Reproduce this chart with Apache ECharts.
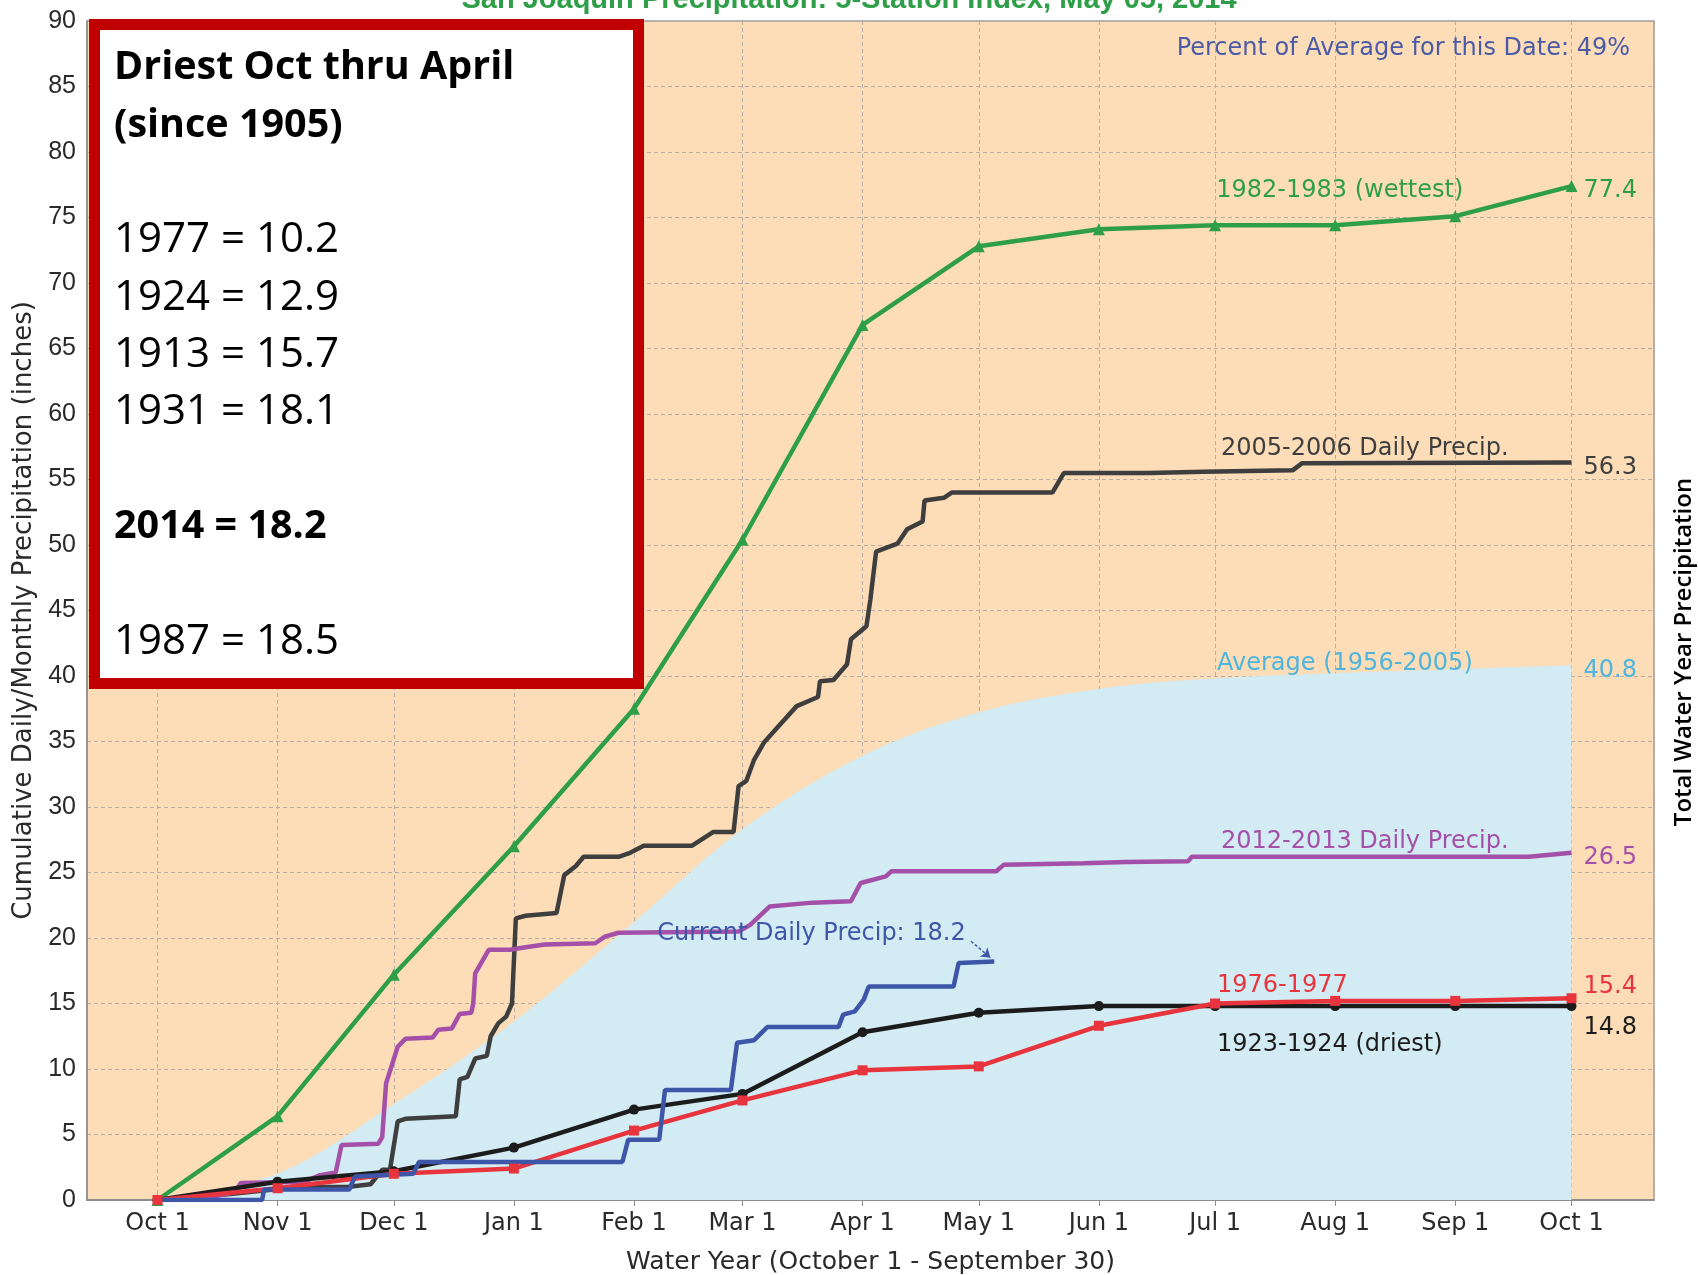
<!DOCTYPE html>
<html>
<head>
<meta charset="utf-8">
<script src="https://cdn.jsdelivr.net/npm/echarts@6/dist/echarts.min.js"></script>
<style>
html, body { margin: 0; padding: 0; background: #fff; }
#chart { width: 1698px; height: 1275px; }
</style>
</head>
<body>
<div id="chart"></div>
<script>
// days counted from Oct 1 of the water year
const monthDays = [0, 31, 61, 92, 123, 151, 182, 212, 243, 273, 304, 335, 365];
const monthNames = ['Jan', 'Feb', 'Mar', 'Apr', 'May', 'Jun', 'Jul', 'Aug', 'Sep', 'Oct', 'Nov', 'Dec'];

// monthly values (inches, on the 1st of each month)
const avg5605 = [0, 2.0, 7.3, 13.6, 21.2, 28.3, 33.9, 37.2, 39.0, 39.8, 40.2, 40.5, 40.8];
const wet8283 = [0, 6.4, 17.2, 27.0, 37.5, 50.4, 66.8, 72.8, 74.1, 74.4, 74.4, 75.1, 77.4];
const dry2324 = [0, 1.4, 2.2, 4.0, 6.9, 8.1, 12.8, 14.3, 14.8, 14.8, 14.8, 14.8, 14.8];
const dry7677 = [0, 0.9, 2.0, 2.4, 5.3, 7.6, 9.9, 10.2, 13.3, 15.0, 15.2, 15.2, 15.4];

// daily series [day, inches]
const daily0506 = [[0, 0], [10, 0.2], [20, 0.5], [30, 0.8], [40, 1.0], [49, 1.0], [55, 1.2], [58, 2.3], [60, 2.3],
  [62, 6.0], [64, 6.2], [77, 6.4], [78, 9.2], [80, 9.4], [82, 10.8], [85, 11.0], [86, 12.5], [88, 13.5], [90, 14.0],
  [91.5, 15.0], [92.5, 21.5], [95, 21.7], [103, 21.9], [105, 24.8], [108, 25.5], [110, 26.2], [119, 26.2], [122, 26.5],
  [125.5, 27.05], [138, 27.05], [143.5, 28.1], [148.7, 28.1], [150, 31.6], [152, 32.0], [154, 33.6], [156.5, 34.9],
  [161, 36.4], [165, 37.7], [170.5, 38.4], [171, 39.6], [174.5, 39.7], [178, 40.9], [179, 42.8], [183, 43.8], [184, 45.8],
  [185.5, 49.5], [191, 50.1], [193.5, 51.2], [197.5, 51.8], [198, 53.4], [203, 53.6], [205, 54.0], [231, 54.0],
  [234, 55.5], [256, 55.5], [270, 55.6], [293, 55.7], [295.5, 56.25], [365, 56.3]];
const daily1213 = [[0, 0], [15, 0.3], [20, 0.6], [21.5, 1.3], [38, 1.4], [42, 1.9], [46, 2.1], [47.5, 4.2], [57, 4.3],
  [58, 4.8], [59, 8.9], [62, 11.7], [64, 12.3], [71, 12.4], [72.5, 13.0], [76, 13.1], [78, 14.2], [81, 14.3], [81.5, 15.0],
  [82, 17.3], [85.5, 19.1], [91, 19.1], [95, 19.3], [100, 19.5], [113, 19.6], [115.5, 20.1], [119, 20.4], [150, 20.5],
  [153, 21.0], [158, 22.4], [169, 22.7], [179, 22.8], [181.5, 24.2], [188, 24.7], [189.5, 25.1], [216.5, 25.1],
  [218.5, 25.6], [239, 25.7], [250, 25.8], [266, 25.85], [267, 26.2], [354, 26.2], [365, 26.5]];
const current1314 = [[0, 0], [27, 0], [27.5, 0.8], [49.5, 0.8], [51, 1.8], [66, 2.0], [67.5, 2.9], [120, 2.9], [121.5, 4.6],
  [129.5, 4.6], [131, 8.4], [148, 8.4], [149.6, 12.0], [154, 12.2], [157.4, 13.2], [175.8, 13.2], [177, 14.15], [180, 14.4],
  [182.3, 15.3], [183.6, 16.3], [205.5, 16.3], [206.8, 18.1], [216, 18.2]];

const boxLines = ['Driest Oct thru April', '(since 1905)', '', '1977 = 10.2', '1924 = 12.9', '1913 = 15.7', '1931 = 18.1',
  '', '2014 = 18.2', '', '1987 = 18.5'];
const boxBold = [0, 1, 8];

const base = Date.UTC(2013, 9, 1);
const DAY = 86400000;
function t(d) { return base + d * DAY; }
function monthly(vals) { return vals.map((v, i) => [t(monthDays[i]), v]); }
function daily(pts) { return pts.map(p => [t(p[0]), p[1]]); }

const FONT = 'DejaVu Sans';
const LW = 4.5;

function tag(day, val, text, color) {
    return {
        symbol: 'circle', symbolSize: 0,
        data: [{
            coord: [t(day), val],
            label: { show: true, position: 'right', distance: 0, offset: [0, 5], formatter: text,
                color: color, fontSize: 24, fontFamily: FONT }
        }]
    };
}
function endLab(color, dy) {
    return {
        show: true, distance: 12, offset: [0, (dy || 0) + 5],
        formatter: p => p.value[1].toFixed(1),
        color: color, fontSize: 24, fontFamily: FONT
    };
}

const chart = echarts.init(document.getElementById('chart'));

const boxGraphics = [{
    type: 'rect', shape: { x: 94.5, y: 24.5, width: 544, height: 659 },
    style: { fill: '#fff', stroke: '#C00000', lineWidth: 11 }, z: 100
}];
boxLines.forEach((s, i) => {
    if (!s) return;
    const b = boxBold.indexOf(i) >= 0;
    boxGraphics.push({
        type: 'text', x: 114, y: 68 + i * 57.4, z: 101,
        style: { text: s, fill: '#000', font: (b ? 'bold 39.5px' : '42px') + ' "Open Sans"', textVerticalAlign: 'middle' }
    });
});

chart.setOption({
    animation: false,
    useUTC: true,
    backgroundColor: '#fff',
    title: {
        text: 'San Joaquin Precipitation: 5-Station Index, May 05, 2014',
        left: 'center', top: -20,
        textStyle: { color: '#2E9F48', fontSize: 29, fontWeight: 'bold', fontFamily: 'Liberation Sans' }
    },
    grid: {
        left: 87, right: 44, top: 21, bottom: 75,
        outerBoundsMode: 'none', containLabel: false,
        show: true, backgroundColor: '#FCDDB8', borderColor: '#A0A0A0', borderWidth: 1.5
    },
    xAxis: {
        type: 'time',
        min: t(-18.2), max: t(386.3),
        minInterval: 28 * DAY, maxInterval: 31 * DAY,
        splitNumber: 13,
        axisLine: { lineStyle: { color: '#8C8C8C', width: 2 } },
        axisTick: { show: true, length: 6, lineStyle: { color: '#8C8C8C' } },
        axisLabel: {
            formatter: v => {
                const d = new Date(v);
                return d.getUTCDate() === 1 ? monthNames[d.getUTCMonth()] + ' 1' : '';
            },
            color: '#2A2A2A', fontSize: 24, fontFamily: FONT, margin: 12, hideOverlap: false
        },
        splitLine: { show: true, lineStyle: { color: '#B8ADA0', type: [4, 3], width: 1 } },
        name: 'Water Year (October 1 - September 30)',
        nameLocation: 'middle', nameGap: 50,
        nameTextStyle: { color: '#2A2A2A', fontSize: 25, fontFamily: FONT }
    },
    yAxis: {
        type: 'value', min: 0, max: 90, interval: 5,
        axisLine: { show: true, lineStyle: { color: '#8C8C8C', width: 1.5 } },
        axisTick: { show: false },
        axisLabel: { color: '#2A2A2A', fontSize: 25, fontFamily: 'Liberation Sans', margin: 11 },
        splitLine: { show: true, lineStyle: { color: '#B8ADA0', type: [4, 3], width: 1 } },
        name: 'Cumulative Daily/Monthly Precipitation (inches)',
        nameLocation: 'middle', nameGap: 50,
        nameTextStyle: { color: '#2A2A2A', fontSize: 26, fontFamily: FONT }
    },
    graphic: boxGraphics.concat([
        {
            type: 'text', x: 1630, y: 49, z: 50,
            style: { text: 'Percent of Average for this Date: 49%', fill: '#4A5AA6', font: '24px "DejaVu Sans"',
                textAlign: 'right', textVerticalAlign: 'middle' }
        },
        {
            type: 'text', x: 1684, y: 652, rotation: Math.PI / 2, z: 50,
            style: { text: 'Total Water Year Precipitation', fill: '#000', font: '600 24px "Open Sans"',
                textAlign: 'center', textVerticalAlign: 'middle' }
        }
    ]),
    series: [
        {
            name: 'Average (1956-2005)', type: 'line', smooth: 0.35, symbol: 'none',
            data: monthly(avg5605),
            lineStyle: { width: 0.5, color: '#D3EBF3' },
            areaStyle: { color: '#D3EBF3', opacity: 1 },
            endLabel: endLab('#4DB5DE'),
            markPoint: tag(273.5, 41.3, 'Average (1956-2005)', '#4DB5DE')
        },
        {
            name: '1982-1983', type: 'line', data: monthly(wet8283),
            symbol: 'triangle', symbolSize: 12, showAllSymbol: true,
            itemStyle: { color: '#2E9F48' }, lineStyle: { color: '#2E9F48', width: LW },
            endLabel: endLab('#2E9F48'),
            markPoint: tag(273.3, 77.4, '1982-1983 (wettest)', '#2E9F48')
        },
        {
            name: '2005-2006', type: 'line', data: daily(daily0506), symbol: 'none',
            lineStyle: { color: '#3E3E3E', width: LW },
            endLabel: endLab('#3E3E3E'),
            markPoint: tag(274.5, 57.7, '2005-2006 Daily Precip.', '#3E3E3E')
        },
        {
            name: '2012-2013', type: 'line', data: daily(daily1213), symbol: 'none',
            lineStyle: { color: '#A450A8', width: LW },
            endLabel: endLab('#A450A8'),
            markPoint: tag(274.5, 27.7, '2012-2013 Daily Precip.', '#A450A8')
        },
        {
            name: '1923-1924', type: 'line', data: monthly(dry2324),
            symbol: 'circle', symbolSize: 10, showAllSymbol: true,
            itemStyle: { color: '#1C1C1C' }, lineStyle: { color: '#1C1C1C', width: LW },
            endLabel: endLab('#1C1C1C', 17),
            markPoint: tag(273.5, 12.2, '1923-1924 (driest)', '#1C1C1C')
        },
        {
            name: '1976-1977', type: 'line', data: monthly(dry7677),
            symbol: 'rect', symbolSize: 10, showAllSymbol: true,
            itemStyle: { color: '#E8343C' }, lineStyle: { color: '#E8343C', width: LW },
            endLabel: endLab('#E8343C', -16),
            markPoint: tag(273.5, 16.75, '1976-1977', '#E8343C')
        },
        {
            name: 'Current', type: 'line', data: daily(current1314), symbol: 'none',
            lineStyle: { color: '#3E56A8', width: LW },
            markPoint: tag(129, 20.7, 'Current Daily Precip: 18.2', '#3E56A8'),
            markLine: {
                silent: true, symbol: ['none', 'arrow'], symbolSize: 9,
                label: { show: false },
                lineStyle: { color: '#3E56A8', type: [3, 2], width: 1.5 },
                data: [[{ coord: [t(210), 19.75] }, { coord: [t(215), 18.5] }]]
            }
        }
    ]
});
</script>
</body>
</html>
